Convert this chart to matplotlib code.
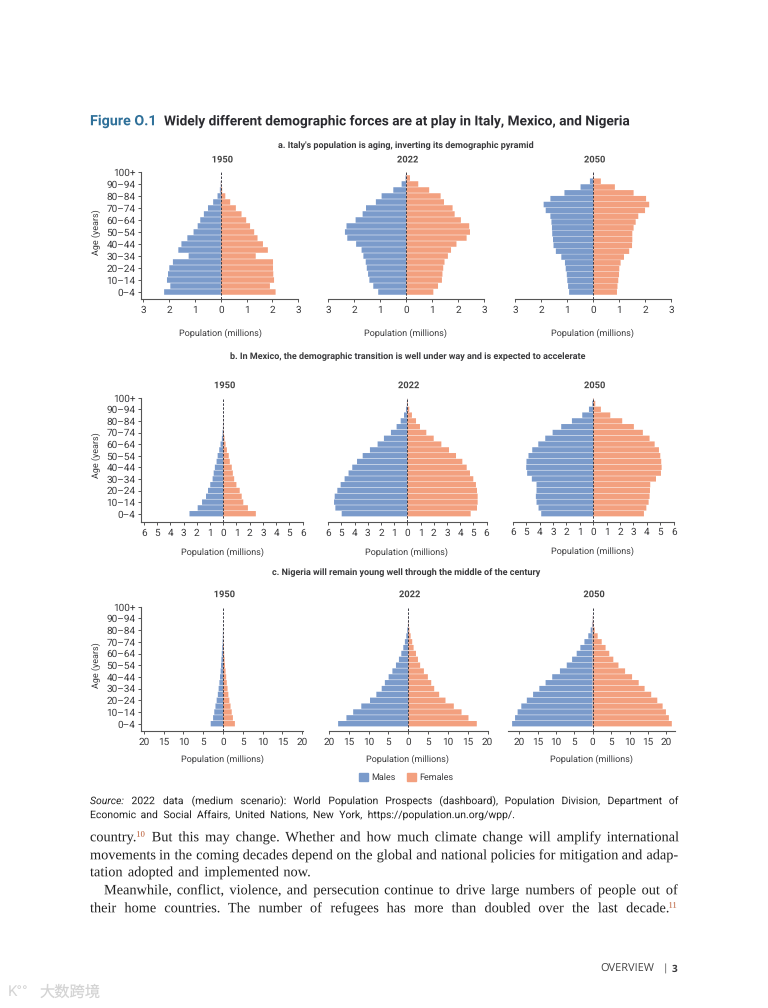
import matplotlib
matplotlib.use('Agg')
import matplotlib.pyplot as plt
import matplotlib.patheffects as pe
from matplotlib.patches import Patch

plt.rcParams['font.family'] = ['Roboto', 'DejaVu Sans']
plt.rcParams['text.hinting'] = 'no_hinting'
plt.rcParams['text.hinting_factor'] = 1

W, H = 768, 1008
MALE = '#7b9bcb'
FEMALE = '#f3a07f'
DARK = '#3a3a3c'
EXACT = [pe.Normal()]  # text drawn as paths, so glyphs are not rounded to whole pixels

# age groups, youngest first
ages = ['0–4', '5–9', '10–14', '15–19', '20–24', '25–29', '30–34', '35–39', '40–44', '45–49',
        '50–54', '55–59', '60–64', '65–69', '70–74', '75–79', '80–84', '85–89', '90–94', '95–99', '100+']

italy_1950_m = [2.2, 1.96, 2.09, 2.05, 2.0, 1.86, 1.25, 1.65, 1.53, 1.3, 1.06, 0.9, 0.8, 0.66, 0.5, 0.3, 0.13, 0.04, 0.01, 0, 0]
italy_1950_f = [2.12, 1.9, 2.06, 2.03, 2.02, 2.02, 1.35, 1.82, 1.63, 1.42, 1.29, 1.13, 0.98, 0.8, 0.58, 0.36, 0.17, 0.05, 0.01, 0, 0]
italy_2022_m = [1.08, 1.27, 1.42, 1.47, 1.52, 1.56, 1.65, 1.72, 1.93, 2.27, 2.36, 2.3, 1.95, 1.68, 1.55, 1.17, 0.95, 0.5, 0.18, 0.03, 0]
italy_2022_f = [1.04, 1.22, 1.37, 1.39, 1.42, 1.47, 1.6, 1.72, 1.93, 2.32, 2.45, 2.42, 2.1, 1.86, 1.78, 1.45, 1.32, 0.88, 0.46, 0.14, 0.01]
italy_2050_m = [0.93, 0.97, 1.0, 1.02, 1.06, 1.09, 1.23, 1.44, 1.53, 1.55, 1.58, 1.59, 1.61, 1.65, 1.83, 1.91, 1.65, 1.11, 0.49, 0.13, 0.01]
italy_2050_f = [0.91, 0.93, 0.96, 0.99, 1.0, 1.05, 1.18, 1.38, 1.49, 1.5, 1.5, 1.55, 1.63, 1.73, 1.99, 2.15, 2.03, 1.55, 0.83, 0.29, 0.01]

mexico_1950_m = [2.55, 1.93, 1.6, 1.3, 1.15, 0.98, 0.8, 0.72, 0.63, 0.5, 0.42, 0.3, 0.2, 0.1, 0.05, 0.02, 0.01, 0, 0, 0, 0]
mexico_1950_f = [2.47, 1.87, 1.52, 1.4, 1.25, 1.0, 0.83, 0.73, 0.65, 0.5, 0.42, 0.28, 0.18, 0.1, 0.05, 0.02, 0.01, 0, 0, 0, 0]
mexico_2022_m = [4.97, 5.45, 5.55, 5.5, 5.3, 5.05, 4.75, 4.45, 4.17, 3.81, 3.38, 2.83, 2.25, 1.77, 1.24, 0.81, 0.5, 0.25, 0.1, 0.03, 0.01]
mexico_2022_f = [4.8, 5.28, 5.33, 5.33, 5.28, 5.2, 5.0, 4.75, 4.5, 4.17, 3.69, 3.16, 2.58, 2.0, 1.44, 0.96, 0.66, 0.35, 0.15, 0.05, 0.01]
mexico_2050_m = [3.88, 4.08, 4.23, 4.28, 4.23, 4.23, 4.58, 4.93, 5.0, 4.98, 4.83, 4.55, 4.1, 3.58, 3.03, 2.39, 1.59, 0.82, 0.32, 0.07, 0.02]
mexico_2050_f = [3.78, 3.96, 4.13, 4.2, 4.23, 4.25, 4.68, 5.05, 5.1, 5.07, 5.0, 4.9, 4.58, 4.2, 3.7, 3.03, 2.16, 1.27, 0.57, 0.15, 0.03]

nigeria_1950_m = [3.1, 2.5, 2.2, 1.9, 1.6, 1.3, 1.1, 0.9, 0.75, 0.6, 0.5, 0.4, 0.3, 0.2, 0.1, 0.05, 0.02, 0, 0, 0, 0]
nigeria_1950_f = [3.0, 2.5, 2.2, 1.9, 1.6, 1.35, 1.15, 0.95, 0.8, 0.65, 0.5, 0.4, 0.3, 0.2, 0.1, 0.05, 0.02, 0, 0, 0, 0]
nigeria_2022_m = [17.7, 15.6, 13.9, 11.85, 9.65, 8.05, 6.7, 5.9, 4.95, 4.0, 3.1, 2.35, 1.75, 1.25, 0.85, 0.5, 0.25, 0.08, 0.02, 0, 0]
nigeria_2022_f = [17.3, 15.2, 13.45, 11.5, 9.4, 7.8, 6.55, 5.8, 4.95, 3.95, 3.0, 2.45, 1.95, 1.35, 1.0, 0.6, 0.3, 0.1, 0.03, 0, 0]
nigeria_2050_m = [21.9, 21.1, 20.4, 19.4, 17.9, 16.2, 14.5, 12.8, 11.0, 8.9, 7.05, 5.6, 4.35, 3.35, 2.25, 1.2, 0.55, 0.2, 0.05, 0, 0]
nigeria_2050_f = [21.5, 20.7, 19.9, 19.0, 17.55, 15.9, 14.1, 12.5, 10.7, 8.8, 7.0, 5.6, 4.5, 3.5, 2.45, 1.35, 0.55, 0.2, 0.05, 0, 0]

italy_ticks = [3, 2, 1, 0, 1, 2, 3]
mexico_ticks = [6, 5, 4, 3, 2, 1, 0, 1, 2, 3, 4, 5, 6]
nigeria_ticks = [20, 15, 10, 5, 0, 5, 10, 15, 20]

fig = plt.figure(figsize=(W / 100, H / 100), dpi=100, facecolor='white')


def px_text(x, y, s, **kw):
    kw.setdefault('ha', 'center')
    kw.setdefault('va', 'center')
    kw.setdefault('color', DARK)
    return fig.text(x / W, 1 - y / H, s, **kw)


def pyramid(males, females, ticks, year, left, right, zero, tick_px, bottom, top, first_row, xtick_y, xlabel_y,
            first_col, squeeze=1.0):
    # tick_px = pixels from zero to the largest tick, squeeze = bar spacing relative to the age ticks
    unit = tick_px / max(ticks)
    step = (first_row - top) / 20
    ax = fig.add_axes([left / W, 1 - bottom / H, (right - left) / W, (bottom - top) / H])
    ax.set_xlim((left - zero) / unit, (right - zero) / unit)
    ax.set_ylim(-(bottom - first_row) / step, 20)
    ax.patch.set_alpha(0)
    rows = list(range(len(ages)))
    bar_rows = [r * squeeze for r in rows]
    for bars in [ax.barh(bar_rows, [-m for m in males], height=0.92, color=MALE, linewidth=0),
                 ax.barh(bar_rows, females, height=0.92, color=FEMALE, linewidth=0)]:
        for b in bars:
            b.set_snap(False)
    ax.plot([0, 0], [ax.get_ylim()[0], 20], color='#3b3b45', lw=0.7, ls=(0, (2.5, 1.5)))

    half = len(ticks) // 2
    positions = [-t for t in ticks[:half]] + ticks[half:]
    ax.set_xticks(positions)
    ax.set_xticklabels([])
    ax.tick_params(axis='x', length=2.2, width=0.7, color='#555555')
    for p, t in zip(positions, ticks):
        px_text(zero + p * unit, xtick_y, str(t), fontsize=7.0)

    for side in ['top', 'right']:
        ax.spines[side].set_visible(False)
    ax.spines['bottom'].set_linewidth(0.8)
    ax.spines['bottom'].set_color('#555555')
    if first_col:
        ax.spines['left'].set_linewidth(0.8)
        ax.spines['left'].set_color('#555555')
        ax.set_yticks(rows[::2])
        ax.set_yticklabels(ages[::2], fontsize=7.0, color=DARK)
        ax.tick_params(axis='y', length=2.2, width=0.7, pad=1.5, color='#555555')
        px_text(96.5, first_row - 9.5 * step - 3, 'Age (years)', fontsize=6.8, rotation=90)
    else:
        ax.spines['left'].set_visible(False)
        ax.set_yticks([])

    px_text(zero + 1, top - 12, year, fontsize=6.7, fontweight='bold', color='#444444', path_effects=EXACT)
    px_text(zero - 1, xlabel_y, 'Population (millions)', fontsize=6.8)
    return ax


# italy
pyramid(italy_1950_m, italy_1950_f, italy_ticks, '1950', 140.7, 298.3, 221, 77.5, 299, 172, 292, 310.5, 333, True)
pyramid(italy_2022_m, italy_2022_f, italy_ticks, '2022', 328.3, 484.3, 406.3, 78, 299, 172, 292, 310.5, 333, False)
pyramid(italy_2050_m, italy_2050_f, italy_ticks, '2050', 515.3, 671.3, 593.3, 78, 299, 172, 292, 310.5, 333, False,
        squeeze=0.972)
# mexico
pyramid(mexico_1950_m, mexico_1950_f, mexico_ticks, '1950', 140.7, 302.5, 223.3, 79.4, 521.7, 397.7, 513.7, 533.5, 552.5, True)
pyramid(mexico_2022_m, mexico_2022_f, mexico_ticks, '2022', 328, 486.5, 407.3, 79.2, 521.7, 397.7, 513.7, 533.5, 552.5, False)
pyramid(mexico_2050_m, mexico_2050_f, mexico_ticks, '2050', 512.7, 673.7, 593.3, 80.5, 521.7, 397.7, 513.7, 532.5, 551.5, False)
# nigeria
pyramid(nigeria_1950_m, nigeria_1950_f, nigeria_ticks, '1950', 140.7, 302.5, 223, 79.3, 730.7, 606.7, 723.7, 742.5, 759.5, True)
pyramid(nigeria_2022_m, nigeria_2022_f, nigeria_ticks, '2022', 329, 487.5, 408.3, 79.3, 730.7, 606.7, 723.7, 742.5, 759.5, False)
pyramid(nigeria_2050_m, nigeria_2050_f, nigeria_ticks, '2050', 508, 674.5, 592.7, 73.6, 730.7, 606.7, 723.7, 742.5, 759.5, False)

# headings
px_text(90, 121.5, 'Figure O.1', fontsize=10.3, fontweight='bold', color='#2f7099', ha='left', path_effects=EXACT)
px_text(164, 121.5, 'Widely different demographic forces are at play in Italy, Mexico, and Nigeria',
        fontsize=9.85, fontweight='bold', color='#2b2b30', ha='left', path_effects=EXACT)
px_text(405.5, 145.5, "a. Italy's population is aging, inverting its demographic pyramid", fontsize=6.8, fontweight='bold')
px_text(408, 357, 'b. In Mexico, the demographic transition is well under way and is expected to accelerate', fontsize=6.8, fontweight='bold')
px_text(406, 573, 'c. Nigeria will remain young well through the middle of the century', fontsize=6.8, fontweight='bold')

fig.legend(handles=[Patch(color=MALE), Patch(color=FEMALE)], labels=['Males', 'Females'],
           ncol=2, loc='center', bbox_to_anchor=(406 / W, 1 - 777.5 / H), frameon=False,
           fontsize=6.8, handlelength=0.95, handleheight=0.95, handletextpad=0.35, columnspacing=1.2,
           labelcolor=DARK)


def justified(line, x0, x1, y, size, family, color='#222222', italic_first=False):
    # lay a line out word by word on one baseline between x0 and x1, ^ marks a footnote number
    renderer = fig.canvas.get_renderer()
    base_y = y + 0.3 * size / 0.72
    items = []
    for i, word in enumerate(line.split()):
        base, _, note = word.partition('^')
        style = 'italic' if italic_first and i == 0 else 'normal'
        t = px_text(0, base_y, base, fontsize=size, family=family, color=color, ha='left', va='baseline',
                    style=style, path_effects=EXACT)
        w = t.get_window_extent(renderer).width
        n = None
        if note:
            n = px_text(0, base_y - 4.5, note, fontsize=size * 0.6, family=family, color='#b5532a', ha='left',
                        va='baseline', path_effects=EXACT)
            w += n.get_window_extent(renderer).width
        items.append((t, n, w))
    space = (x1 - x0 - sum(i[2] for i in items)) / (len(items) - 1)
    x = x0
    for t, n, w in items:
        t.set_x(x / W)
        if n is not None:
            n.set_x((x + t.get_window_extent(renderer).width) / W)
        x += w + space


source_lines = ['Source: 2022 data (medium scenario): World Population Prospects (dashboard), Population Division, Department of',
                'Economic and Social Affairs, United Nations, New York, https://population.un.org/wpp/.']
body_lines = ['country.^10 But this may change. Whether and how much climate change will amplify international',
              'movements in the coming decades depend on the global and national policies for mitigation and adap-',
              'tation adopted and implemented now.',
              'Meanwhile, conflict, violence, and persecution continue to drive large numbers of people out of',
              'their home countries. The number of refugees has more than doubled over the last decade.^11']

justified(source_lines[0], 90, 678, 801, 7.5, 'Roboto', italic_first=True)
justified(source_lines[1], 90, 509, 815, 7.5, 'Roboto')
justified(body_lines[0], 90, 677.5, 837, 10.3, 'Liberation Serif')
justified(body_lines[1], 90, 677.5, 855, 10.3, 'Liberation Serif')
justified(body_lines[2], 90, 311, 872, 10.3, 'Liberation Serif')
justified(body_lines[3], 104, 677.5, 890, 10.3, 'Liberation Serif')
justified(body_lines[4], 90, 677.5, 908, 10.3, 'Liberation Serif')

# page furniture
px_text(600, 969, 'OVERVIEW', fontsize=8.0, ha='left', color='#444444', family='Open Sans')
px_text(665, 968.5, '|', fontsize=7.5, color='#444444', family='Open Sans')
px_text(672, 969, '3', fontsize=7.5, ha='left', fontweight='bold', family='Open Sans')
px_text(40, 992, '大数跨境', fontsize=11, ha='left', color='#d4d4d4', family='Noto Sans CJK SC')
px_text(8, 992, 'K°°', fontsize=11, ha='left', color='#d4d4d4')

fig.savefig('out.png', dpi=100)
